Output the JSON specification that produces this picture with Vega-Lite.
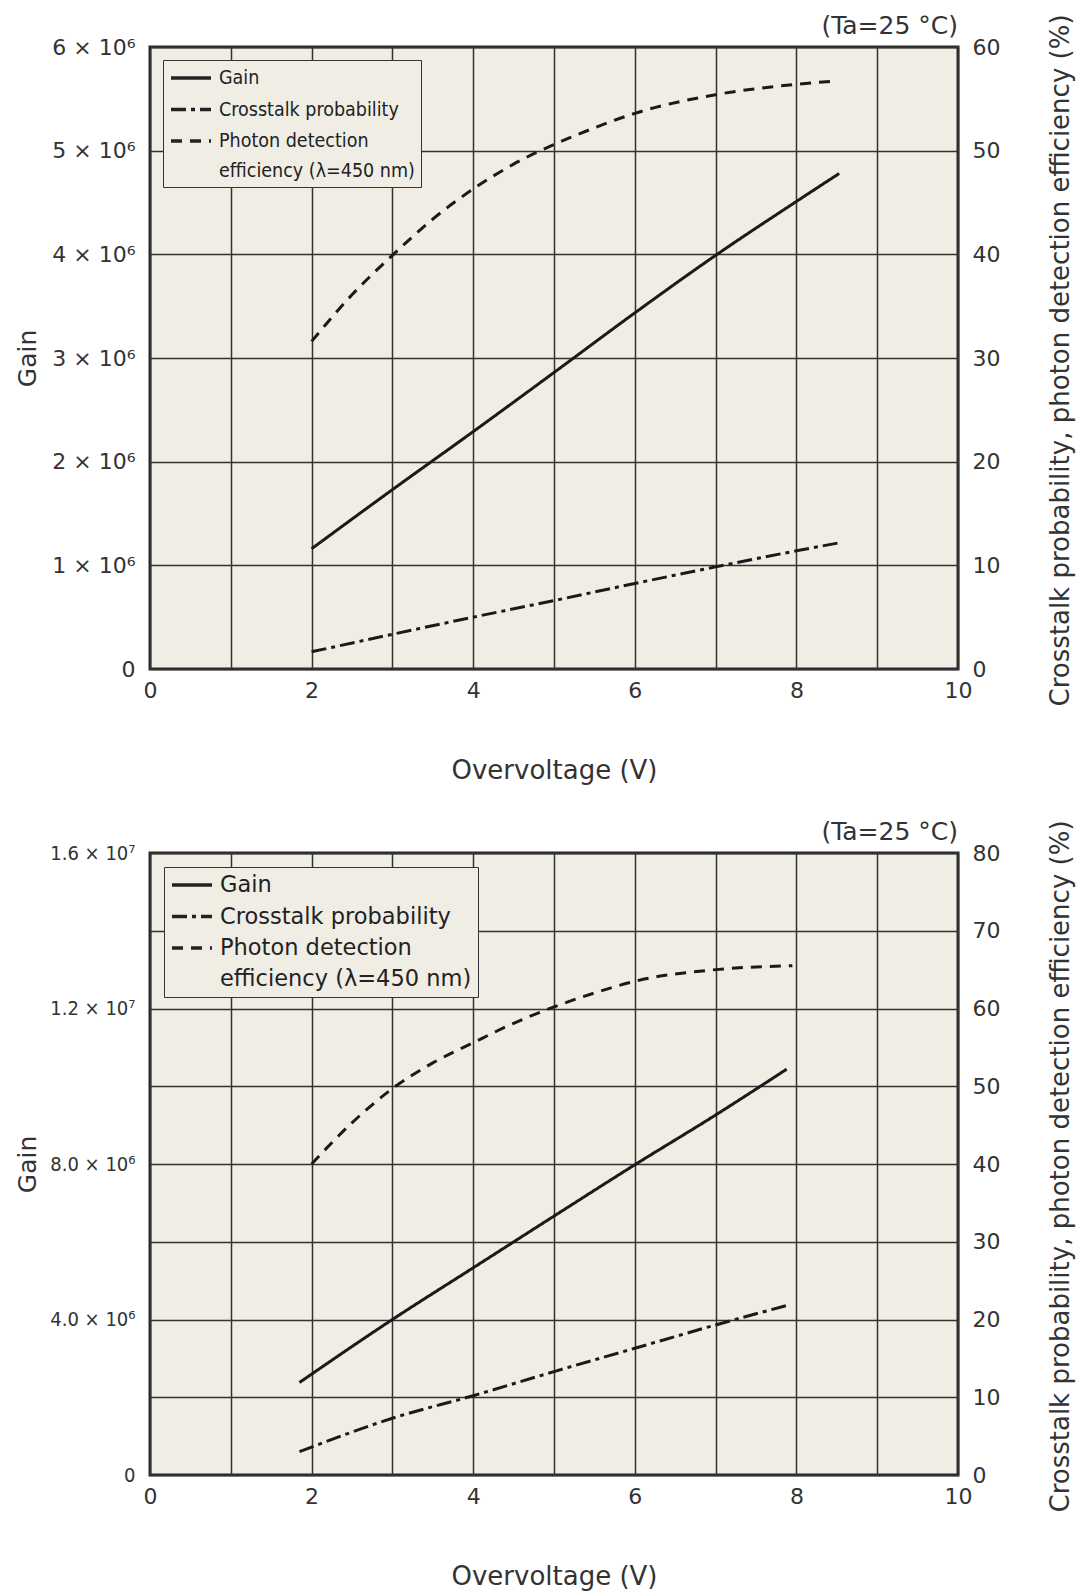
{
  "$schema": "https://vega.github.io/schema/vega-lite/v6.json",
  "background": "white",
  "padding": {"left": 13, "top": 12, "right": 5, "bottom": 3},
  "spacing": 33,
  "config": {
    "font": "DejaVu Sans",
    "view": {"fill": "#f0ede5", "stroke": "#2a2a2a", "strokeWidth": 3},
    "axis": {"gridColor": "#333333", "gridWidth": 1.5, "gridOpacity": 1, "domain": false, "ticks": false, "labelColor": "#333333", "titleColor": "#333333", "labelFontSize": 22, "titleFontSize": 26, "titleFontWeight": "normal", "labelFlush": false},
    "title": {"fontSize": 25, "fontWeight": "normal", "color": "#333333"}
  },
  "resolve": {"scale": {"strokeDash": "independent"}, "legend": {"strokeDash": "independent"}},
  "vconcat": [
    {
      "width": 808,
      "height": 622,
      "title": {"text": "(Ta=25 °C)", "anchor": "end", "frame": "group", "offset": -25},
      "data": {"values": [
        {"series": "Gain", "V": 2, "value": 1160000},
        {"series": "Gain", "V": 3, "value": 1730000},
        {"series": "Gain", "V": 4, "value": 2290000},
        {"series": "Gain", "V": 5, "value": 2860000},
        {"series": "Gain", "V": 6, "value": 3435000},
        {"series": "Gain", "V": 7, "value": 3990000},
        {"series": "Gain", "V": 8, "value": 4510000},
        {"series": "Gain", "V": 8.53, "value": 4780000},
        {"series": "Crosstalk", "V": 2, "value": 1.66},
        {"series": "Crosstalk", "V": 3, "value": 3.35},
        {"series": "Crosstalk", "V": 4, "value": 5.0},
        {"series": "Crosstalk", "V": 5, "value": 6.6},
        {"series": "Crosstalk", "V": 6, "value": 8.25},
        {"series": "Crosstalk", "V": 7, "value": 9.85},
        {"series": "Crosstalk", "V": 8, "value": 11.4},
        {"series": "Crosstalk", "V": 8.55, "value": 12.2},
        {"series": "PDE", "V": 2, "value": 31.6},
        {"series": "PDE", "V": 2.5, "value": 36.1},
        {"series": "PDE", "V": 3, "value": 39.9},
        {"series": "PDE", "V": 3.5, "value": 43.4},
        {"series": "PDE", "V": 4, "value": 46.3},
        {"series": "PDE", "V": 4.5, "value": 48.7},
        {"series": "PDE", "V": 5, "value": 50.6},
        {"series": "PDE", "V": 5.5, "value": 52.2},
        {"series": "PDE", "V": 6, "value": 53.6},
        {"series": "PDE", "V": 7, "value": 55.4},
        {"series": "PDE", "V": 8, "value": 56.4},
        {"series": "PDE", "V": 8.45, "value": 56.7}
      ]},
      "encoding": {
        "x": {"field": "V", "type": "quantitative", "scale": {"domain": [0, 10], "nice": false, "zero": false},
          "axis": {"title": "Overvoltage (V)", "values": [0,1,2,3,4,5,6,7,8,9,10], "labelExpr": "datum.value % 2 == 0 ? datum.label : ''", "labelPadding": 11, "titleY": 101, "titleBaseline": "middle"}}
      },
      "layer": [
        {
          "transform": [{"filter": "datum.series == 'Gain'"}],
          "mark": {"type": "line", "color": "#1a1a1a", "strokeWidth": 3, "interpolate": "monotone"},
          "encoding": {
            "y": {"field": "value", "type": "quantitative", "scale": {"domain": [0, 6000000], "nice": false},
              "axis": {"title": "Gain", "orient": "left", "titleFontSize": 25, "titleX": -123, "titleY": 311, "titleBaseline": "middle", "titleAngle": 270, "values": [0,1000000,2000000,3000000,4000000,5000000,6000000], "labelExpr": "datum.value == 0 ? '0' : format(datum.value/1000000, 'd') + ' × 10⁶'", "labelPadding": 15}},
            "strokeDash": {"field": "series", "type": "nominal",
              "scale": {"domain": ["Gain", "Crosstalk", "PDE"], "range": [[1, 0], [15, 5, 4, 5], [11, 8]]},
              "legend": {"title": null, "orient": "top-left", "offset": 13, "fillColor": "#f0ede5", "strokeColor": "#333333", "padding": 6, "symbolType": "M-1,0H3", "symbolStrokeWidth": 3.5, "symbolSize": 400, "symbolStrokeColor": "#222222", "labelFont": "DejaVu Sans Condensed, Liberation Sans Narrow, DejaVu Sans", "labelFontSize": 19.5, "labelColor": "#222222", "labelLimit": 500, "rowPadding": 9.5, "labelOffset": 26,
                "labelExpr": "datum.label == 'PDE' ? ['Photon detection', 'efficiency (λ=450 nm)'] : datum.label == 'Crosstalk' ? 'Crosstalk probability' : datum.label",
                "encode": {"labels": {"update": {"lineHeight": {"value": 30}}}}}}
          }
        },
        {
          "transform": [{"filter": "datum.series != 'Gain'"}],
          "mark": {"type": "line", "color": "#1a1a1a", "strokeWidth": 3, "interpolate": "monotone"},
          "encoding": {
            "y": {"field": "value", "type": "quantitative", "scale": {"domain": [0, 60], "nice": false},
              "axis": {"title": "Crosstalk probability, photon detection efficiency (%)", "orient": "right", "values": [0,10,20,30,40,50,60], "grid": false, "labelPadding": 14, "titleX": 102, "titleY": 313, "titleBaseline": "middle", "titleAngle": 270}},
            "strokeDash": {"field": "series", "type": "nominal"}
          }
        }
      ],
      "resolve": {"scale": {"y": "independent"}}
    },
    {
      "width": 808,
      "height": 622,
      "title": {"text": "(Ta=25 °C)", "anchor": "end", "frame": "group", "offset": -25},
      "data": {"values": [
        {"series": "Gain", "V": 1.85, "value": 2380000},
        {"series": "Gain", "V": 3, "value": 4000000},
        {"series": "Gain", "V": 4, "value": 5330000},
        {"series": "Gain", "V": 5, "value": 6660000},
        {"series": "Gain", "V": 6, "value": 7980000},
        {"series": "Gain", "V": 7, "value": 9260000},
        {"series": "Gain", "V": 7.88, "value": 10440000},
        {"series": "Crosstalk", "V": 1.85, "value": 3.0},
        {"series": "Crosstalk", "V": 3, "value": 7.3},
        {"series": "Crosstalk", "V": 4, "value": 10.2},
        {"series": "Crosstalk", "V": 5, "value": 13.3},
        {"series": "Crosstalk", "V": 6, "value": 16.3},
        {"series": "Crosstalk", "V": 7, "value": 19.3},
        {"series": "Crosstalk", "V": 7.88, "value": 21.8},
        {"series": "PDE", "V": 2, "value": 40.0},
        {"series": "PDE", "V": 2.5, "value": 45.3},
        {"series": "PDE", "V": 3, "value": 49.7},
        {"series": "PDE", "V": 3.5, "value": 53.0},
        {"series": "PDE", "V": 4, "value": 55.6},
        {"series": "PDE", "V": 4.5, "value": 58.1},
        {"series": "PDE", "V": 5, "value": 60.2},
        {"series": "PDE", "V": 5.5, "value": 62.0},
        {"series": "PDE", "V": 6, "value": 63.5},
        {"series": "PDE", "V": 7, "value": 65.0},
        {"series": "PDE", "V": 7.95, "value": 65.5}
      ]},
      "encoding": {
        "x": {"field": "V", "type": "quantitative", "scale": {"domain": [0, 10], "nice": false, "zero": false},
          "axis": {"title": "Overvoltage (V)", "values": [0,1,2,3,4,5,6,7,8,9,10], "labelExpr": "datum.value % 2 == 0 ? datum.label : ''", "labelPadding": 11, "titleY": 101, "titleBaseline": "middle"}}
      },
      "layer": [
        {
          "transform": [{"filter": "datum.series == 'Gain'"}],
          "mark": {"type": "line", "color": "#1a1a1a", "strokeWidth": 3, "interpolate": "monotone"},
          "encoding": {
            "y": {"field": "value", "type": "quantitative", "scale": {"domain": [0, 16000000], "nice": false},
              "axis": {"title": "Gain", "orient": "left", "titleFontSize": 25, "titleX": -123, "titleY": 311, "titleBaseline": "middle", "titleAngle": 270, "values": [0,2000000,4000000,6000000,8000000,10000000,12000000,14000000,16000000], "labelExpr": "datum.value == 0 ? '0' : datum.value == 4000000 ? '4.0 × 10⁶' : datum.value == 8000000 ? '8.0 × 10⁶' : datum.value == 12000000 ? '1.2 × 10⁷' : datum.value == 16000000 ? '1.6 × 10⁷' : ''", "labelFont": "DejaVu Sans Condensed, Liberation Sans Narrow, DejaVu Sans", "labelFontSize": 20, "labelPadding": 15}},
            "strokeDash": {"field": "series", "type": "nominal",
              "scale": {"domain": ["Gain", "Crosstalk", "PDE"], "range": [[1, 0], [15, 5, 4, 5], [11, 8]]},
              "legend": {"title": null, "orient": "top-left", "offset": 14, "fillColor": "#f0ede5", "strokeColor": "#333333", "padding": 6, "symbolType": "M-1,0H3", "symbolStrokeWidth": 3.5, "symbolSize": 400, "symbolStrokeColor": "#222222", "labelFontSize": 22.5, "labelColor": "#222222", "labelLimit": 500, "rowPadding": 7.5, "labelOffset": 26,
                "labelExpr": "datum.label == 'PDE' ? ['Photon detection', 'efficiency (λ=450 nm)'] : datum.label == 'Crosstalk' ? 'Crosstalk probability' : datum.label",
                "encode": {"labels": {"update": {"lineHeight": {"value": 31}}}}}}
          }
        },
        {
          "transform": [{"filter": "datum.series != 'Gain'"}],
          "mark": {"type": "line", "color": "#1a1a1a", "strokeWidth": 3, "interpolate": "monotone"},
          "encoding": {
            "y": {"field": "value", "type": "quantitative", "scale": {"domain": [0, 80], "nice": false},
              "axis": {"title": "Crosstalk probability, photon detection efficiency (%)", "orient": "right", "values": [0,10,20,30,40,50,60,70,80], "grid": false, "labelPadding": 14, "titleX": 102, "titleY": 313, "titleBaseline": "middle", "titleAngle": 270}},
            "strokeDash": {"field": "series", "type": "nominal"}
          }
        }
      ],
      "resolve": {"scale": {"y": "independent"}}
    }
  ]
}
